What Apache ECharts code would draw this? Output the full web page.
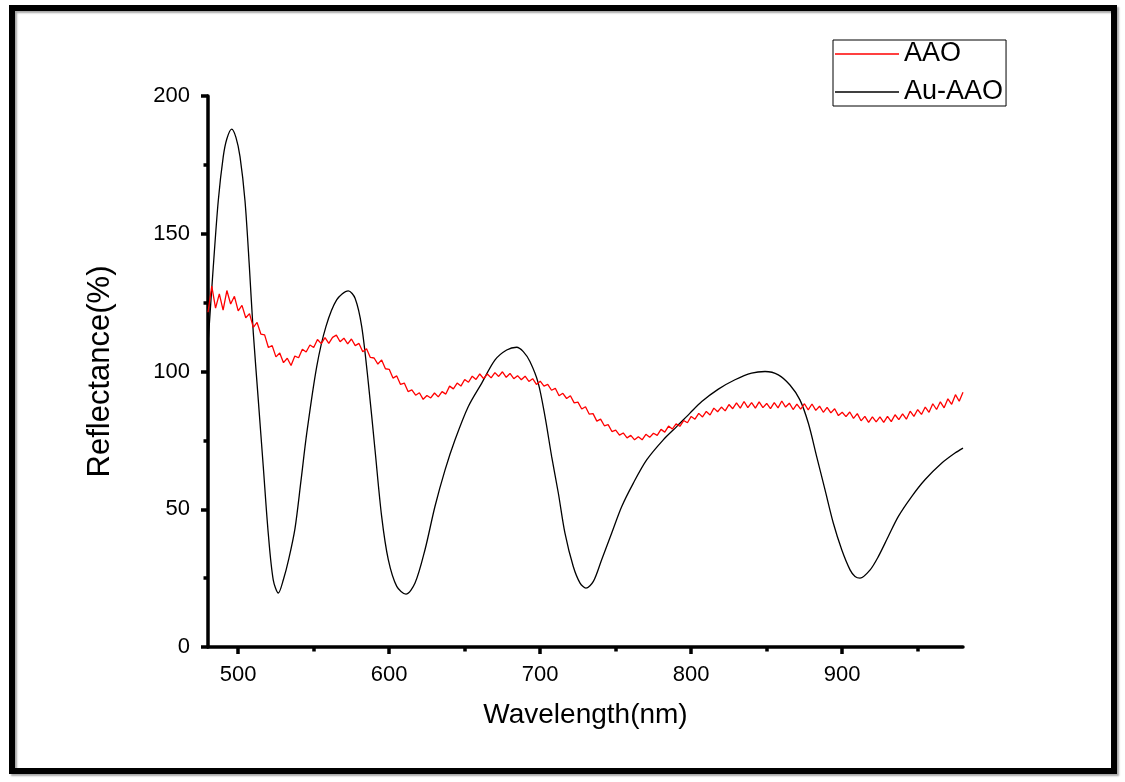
<!DOCTYPE html>
<html><head><meta charset="utf-8">
<script src="https://cdn.jsdelivr.net/npm/echarts@6/dist/echarts.min.js"></script>
<style>html,body{margin:0;padding:0;background:#fff}#c{width:1125px;height:782px}</style>
</head><body><div id="c"></div>
<script>
const seriesNames = ['AAO', 'Au-AAO'];
const xTickLabels = [500, 600, 700, 800, 900];
const xMinorTicks = [550, 650, 750, 850, 950];
const xTitle = 'Wavelength(nm)';
const yTitle = 'Reflectance(%)';

// AAO reflectance, sampled every 2.5 nm from 480 nm
const aaoStart = 480, aaoStep = 2.5;
const aaoValues = [
  121.5,131,123,128.2,122.3,129.4,124.5,127.3,122,124,
  119.5,121,116,117.8,113.6,113.3,108.7,109.4,105.3,106.7,
  103.2,104.8,102.2,105.6,105,108.1,107.1,109.6,108.7,111.6,
  110.1,112.3,110.2,112.4,113.2,110.8,112.1,110,111.8,109.4,
  110.2,107.2,108.3,105.1,104.9,102.7,104.2,101,100.8,97.6,
  98.4,95.3,95.8,92.7,93.3,91.4,92.3,89.9,91.3,90.4,
  92.2,90.8,92.7,91.8,94.7,93.7,95.8,94.7,97.1,96.1,
  98.3,97.1,99.1,97.4,99.1,97.7,99.6,98.2,99.9,97.9,
  99.3,97.4,98.5,97,98.3,96.4,97.4,95.3,96.5,94.7,
  95.3,93.2,93.9,91.2,92.1,90.2,91.2,88.6,88.9,86.4,
  87.2,84.5,84.7,82,82.7,80.3,80.7,78.2,78.7,76.9,
  77.7,75.9,76.8,75.2,76.3,75.2,77.2,76.1,77.6,76.8,
  79,78,80.2,79.1,81,80.1,82.2,81.4,83.7,82.7,
  84.8,83.5,85.5,84.2,86.7,85.4,87.1,85.7,88,86.5,
  88.6,86.7,89.1,86.9,88.7,86.7,89,86.9,88.4,86.5,
  88.7,86.8,89.3,87.1,88.5,86.2,88.2,86.3,88.3,86.1,
  88.2,85.9,87.4,85.2,87,85,86.5,84,85.2,83.6,
  85.3,83,84.7,82.1,83.7,81.5,83.5,81.7,83.5,81.5,
  83.7,81.8,84.3,82.5,84.6,82.7,85.6,83.7,86.2,84.4,
  87.1,85.2,88.3,86.2,89,86.8,90.1,88.1,91.6,89.2,
  92.5
];

// Au-AAO reflectance: [wavelength nm, reflectance %]
const auAaoPoints = [
  [480,110],[483.5,138],[486.8,162],[490.1,178],[492.5,184.5],[495.7,188],[498.5,185],
  [501.2,178],[504.5,162],[507.4,138],[510,114],[513.3,89.7],[516.6,65.5],[519.9,41.3],
  [523.2,24.4],[526.6,19.6],[529.9,24.4],[533.5,32],[537.6,43],[541.5,60],[545.4,77.6],[552,101.8],
  [558.1,116.3],[565.2,126],[572.9,129.3],[577.4,126.6],[581.8,116.3],[586.2,95.8],
  [590.6,71.6],[595,47.4],[599.4,31.7],[605,22],[611.1,19.2],[617.1,23.2],[623.7,35.3],
  [630.3,51],[637,64.3],[643.6,75.2],[652.4,87.3],[661.3,95.8],[670.1,104.2],[677.8,107.8],
  [684.4,108.8],[688.8,107.2],[693.2,103.6],[698.7,95.8],[703.2,83.6],[707.6,69.1],
  [712,55.9],[716.4,41.3],[721.9,29.2],[726.4,23.2],[730.3,21.4],[735.2,23.8],[740.7,31.7],
  [747.3,41.3],[754,51],[761.7,59.5],[770.5,67.9],[781.5,75.2],[790.4,80],[799.2,84.9],
  [807,89.1],[818,93.6],[829,97],[840,99.4],[848.9,100],[857.7,98.8],[865.4,95.1],
  [872,89.7],[877.6,81.2],[883.1,69.1],[888.6,57.1],[894.1,45],[899.7,35.3],[905.2,28],
  [908.5,25.6],[911.8,25],[918.5,28],[924,32.9],[930.5,40.1],[937.2,47.4],[946,54.6],
  [954.8,60.7],[965.8,66.7],[974.7,70.4],[980,72.2]
];

const FONT = '"Liberation Sans", Arial, sans-serif';
const aaoData = aaoValues.map((v, i) => [aaoStart + i * aaoStep, v]);

const chart = echarts.init(document.getElementById('c'), null, {renderer: 'canvas'});
const axisStroke = () => ({color: '#000', width: 3.5});
chart.setOption({
  animation: false,
  backgroundColor: '#fff',
  textStyle: {fontFamily: FONT},
  graphic: [{
    type: 'rect', silent: true, z: 100,
    shape: {x: 12, y: 8, width: 1102, height: 763},
    style: {fill: 'none', stroke: '#000', lineWidth: 6,
      shadowColor: 'rgba(0,0,0,0.35)', shadowBlur: 2, shadowOffsetX: 2, shadowOffsetY: 2}
  }],
  grid: {left: 208, right: 162, top: 96, bottom: 135, containLabel: false},
  legend: {
    orient: 'vertical', left: 833, top: 40,
    data: seriesNames,
    icon: 'rect',
    borderColor: '#000', borderWidth: 1, borderRadius: 0,
    padding: [0, 3, 0, 2],
    itemWidth: 64, itemHeight: 1.5, itemGap: 10,
    textStyle: {fontSize: 27, color: '#000', fontFamily: FONT, lineHeight: 28}
  },
  xAxis: [{
    type: 'value', min: 480, max: 980,
    name: xTitle, nameLocation: 'middle', nameGap: 54,
    nameTextStyle: {fontSize: 28, color: '#000', fontFamily: FONT},
    axisLine: {show: true, lineStyle: axisStroke()},
    axisTick: {show: true, customValues: xTickLabels, length: 7, lineStyle: axisStroke()},
    axisLabel: {customValues: xTickLabels, fontSize: 22, color: '#000', margin: 17, fontFamily: FONT},
    splitLine: {show: false}
  }, {
    type: 'value', min: 480, max: 980, position: 'bottom',
    axisLine: {show: false},
    axisTick: {show: true, customValues: xMinorTicks, length: 4.5, lineStyle: axisStroke()},
    axisLabel: {show: false},
    splitLine: {show: false}
  }],
  yAxis: {
    type: 'value', min: 0, max: 200, interval: 50,
    name: yTitle, nameLocation: 'middle', nameGap: 92, nameRotate: 90,
    nameTextStyle: {fontSize: 31, color: '#000', fontFamily: FONT},
    axisLine: {show: true, lineStyle: axisStroke()},
    axisTick: {show: true, length: 7, lineStyle: axisStroke()},
    minorTick: {show: true, splitNumber: 2, length: 4.5, lineStyle: axisStroke()},
    axisLabel: {fontSize: 22, color: '#000', margin: 18, fontFamily: FONT},
    splitLine: {show: false}
  },
  series: [{
    name: seriesNames[0], type: 'line', data: aaoData,
    symbol: 'none', showSymbol: false,
    lineStyle: {color: '#ff0000', width: 1.3},
    itemStyle: {color: '#ff0000'}, z: 3
  }, {
    name: seriesNames[1], type: 'line', data: auAaoPoints,
    symbol: 'none', showSymbol: false, smooth: 0.3,
    lineStyle: {color: '#000', width: 1.3},
    itemStyle: {color: '#000'}, z: 2
  }]
});
</script></body></html>
